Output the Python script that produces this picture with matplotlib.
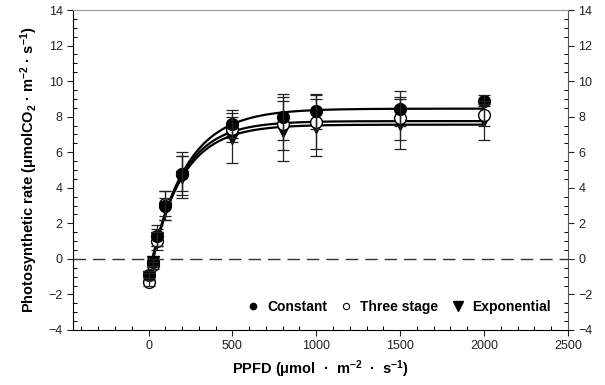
import numpy as np
import matplotlib
matplotlib.use("Agg")
import matplotlib.pyplot as plt
from matplotlib.ticker import MultipleLocator
from matplotlib.lines import Line2D

plt.rcParams['font.family'] = ['Liberation Sans', 'DejaVu Sans']
plt.rcParams['mathtext.fontset'] = 'custom'
plt.rcParams['mathtext.rm'] = 'Liberation Sans:bold'
plt.rcParams['mathtext.it'] = 'Liberation Sans:bold'
plt.rcParams['mathtext.bf'] = 'Liberation Sans:bold'

# data
ppfd = [0, 25, 50, 100, 200, 500, 800, 1000, 1500, 2000]
constant = [-0.9, -0.2, 1.3, 3.0, 4.8, 7.6, 8.0, 8.3, 8.45, 8.9]
constant_err = [0.2, 0.2, 0.6, 0.8, 1.0, 0.8, 1.3, 1.0, 1.0, 0.3]
three_stage = [-1.3, -0.35, 1.0, 3.1, 4.8, 7.3, 7.6, 7.7, 7.9, 8.1]
three_stage_err = [0.2, 0.2, 0.5, 0.7, 1.2, 0.7, 1.5, 1.5, 1.2, 0.6]
exponential = [-1.0, -0.2, 1.2, 2.8, 4.6, 6.8, 7.2, 7.4, 7.6, 7.8]
exponential_err = [0.2, 0.2, 0.5, 0.6, 1.2, 1.4, 1.7, 1.6, 1.4, 1.1]

# fitted light-response curves: Pmax - (Pmax + Rd) * exp(-k x)
fit_constant = dict(pmax=8.45, rd=1.0, k=0.00476)
fit_three = dict(pmax=7.75, rd=1.3, k=0.00544)
fit_exp = dict(pmax=7.55, rd=1.0, k=0.0053)

fig = plt.figure(figsize=(6.05, 3.85), dpi=100)
ax = fig.add_axes([0.1207, 0.143, 0.818, 0.831])

xs = np.linspace(0, 2000, 400)
for p in (fit_constant, fit_three, fit_exp):
    ys = p['pmax'] - (p['pmax'] + p['rd']) * np.exp(-p['k'] * xs)
    ax.plot(xs, ys, color='black', lw=1.6, zorder=2)

ax.axhline(0, color='#333333', lw=1.0, dashes=(9, 5), zorder=1)

ax.plot(ppfd, exponential, 'v', mfc='black', mec='black', ms=8.5, zorder=3)
ax.plot(ppfd, three_stage, 'o', mfc='white', mec='black', ms=8.5, mew=1, zorder=3)
ax.plot(ppfd, constant, 'o', mfc='black', mec='black', ms=8.5, zorder=3)

ekw = dict(ecolor='#222222', elinewidth=0.9, capsize=4, capthick=0.9, fmt='none', zorder=4)
ax.errorbar(ppfd, exponential, yerr=exponential_err, **ekw)
ax.errorbar(ppfd, three_stage, yerr=three_stage_err, **ekw)
ax.errorbar(ppfd, constant, yerr=constant_err, **ekw)

ax.set_xlim(-450, 2500)
ax.set_ylim(-4, 14)
ax.xaxis.set_minor_locator(MultipleLocator(100))
ax.yaxis.set_major_locator(MultipleLocator(2))
ax.yaxis.set_minor_locator(MultipleLocator(0.5))
ax.set_xticks([0, 500, 1000, 1500, 2000, 2500])

ax.tick_params(which='major', direction='out', length=4, width=0.8, labelsize=9,
               colors='#222222', left=True, right=True, bottom=True, top=False,
               labelright=True)
ax.tick_params(which='minor', direction='in', length=3, width=0.7,
               left=True, right=True, bottom=True, top=False)
ax.spines['top'].set_color('#999999')
ax.spines['right'].set_color('#555555')

ax.set_xlabel(r'PPFD ($\mu$mol  ·  m$^{-2}$  ·  s$^{-1}$)', fontsize=10.5, fontweight='bold')
ax.set_ylabel(r'Photosynthetic rate ($\mu$molCO$_2$ · m$^{-2}$ · s$^{-1}$)', fontsize=10.5,
              fontweight='bold', labelpad=6)

handles = [Line2D([], [], marker='o', ls='none', mfc='black', mec='black', ms=4.5),
           Line2D([], [], marker='o', ls='none', mfc='white', mec='black', ms=4.5, mew=0.8),
           Line2D([], [], marker='v', ls='none', mfc='black', mec='black', ms=7)]
ax.legend(handles, ['Constant', 'Three stage', 'Exponential'], loc='lower right',
          bbox_to_anchor=(0.99, 0.01), ncol=3, frameon=False, handlelength=1.0,
          handletextpad=0.5, columnspacing=0.9, prop={'weight': 'bold', 'size': 10})

fig.savefig('out.png', dpi=100)
